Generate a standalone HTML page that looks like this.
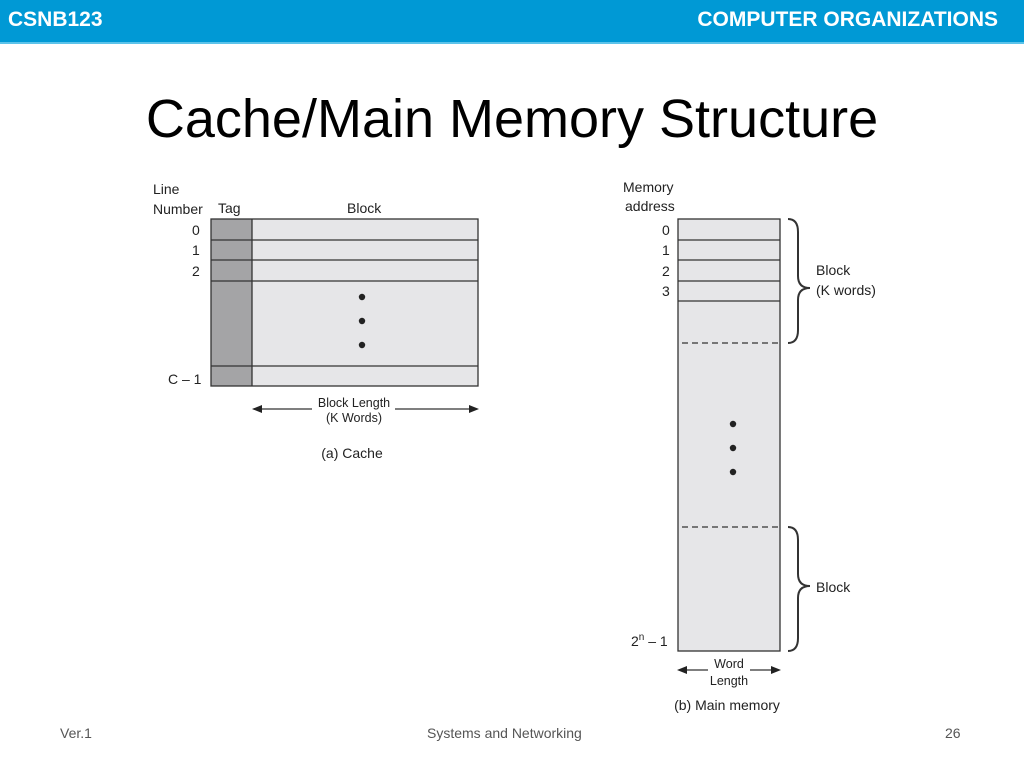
<!DOCTYPE html>
<html><head><meta charset="utf-8"><style>
body{margin:0;width:1024px;height:768px;background:#fff;overflow:hidden;font-family:"Liberation Sans",sans-serif;position:relative}
.hdr{position:absolute;left:0;top:0;width:1024px;height:42px;background:#0099d5;border-bottom:2px solid #5cc3ea}
.hdr span{position:absolute;top:8px;color:#fff;font-weight:bold;font-size:21px}
h1{position:absolute;left:0;width:1024px;top:84px;margin:0;text-align:center;font-weight:normal;font-size:54px;color:#000;line-height:70px}
.f{position:absolute;top:725px;font-size:14px;color:#555}
</style></head><body>
<div class="hdr"><span style="left:8px">CSNB123</span><span style="right:26px">COMPUTER ORGANIZATIONS</span></div>
<h1>Cache/Main Memory Structure</h1>
<svg width="1024" height="768" style="position:absolute;left:0;top:0" font-family="Liberation Sans, sans-serif" font-size="14" fill="#222">
<rect x="211" y="219" width="41" height="167" fill="#a4a4a6"/>
<rect x="252" y="219" width="226" height="167" fill="#e6e6e8"/>
<g stroke="#333" stroke-width="1.3" fill="none">
<rect x="211" y="219" width="267" height="167"/>
<line x1="252" y1="219" x2="252" y2="386"/>
<line x1="211" y1="240" x2="478" y2="240"/><line x1="211" y1="260" x2="478" y2="260"/>
<line x1="211" y1="281" x2="478" y2="281"/><line x1="211" y1="366" x2="478" y2="366"/>
<line x1="262" y1="409" x2="312" y2="409"/><line x1="395" y1="409" x2="470" y2="409"/>
</g>
<polygon points="252,409 262,405 262,413" fill="#222"/><polygon points="479,409 469,405 469,413" fill="#222"/>
<circle cx="362" cy="297" r="3.2"/><circle cx="362" cy="321" r="3.2"/><circle cx="362" cy="345" r="3.2"/>
<text x="153" y="194">Line</text><text x="153" y="214">Number</text><text x="218" y="213">Tag</text><text x="347" y="213">Block</text>
<text x="192" y="235">0</text><text x="192" y="255">1</text><text x="192" y="276">2</text><text x="168" y="384">C – 1</text>
<text x="354" y="407" text-anchor="middle" font-size="12.5">Block Length</text><text x="354" y="422" text-anchor="middle" font-size="12.5">(K Words)</text>
<text x="352" y="458" text-anchor="middle">(a) Cache</text>

<rect x="678" y="219" width="102" height="432" fill="#e6e6e8" stroke="#333" stroke-width="1.3"/>
<g stroke="#333" stroke-width="1.3" fill="none">
<line x1="678" y1="240" x2="780" y2="240"/><line x1="678" y1="260" x2="780" y2="260"/>
<line x1="678" y1="281" x2="780" y2="281"/><line x1="678" y1="301" x2="780" y2="301"/>
<line x1="682" y1="343" x2="780" y2="343" stroke-dasharray="6,4"/>
<line x1="682" y1="527" x2="780" y2="527" stroke-dasharray="6,4"/>
<path d="M788,219 Q798,219 798,232 L798,276 Q798,288 810,288 Q798,288 798,300 L798,330 Q798,343 788,343" stroke-width="2"/>
<path d="M788,527 Q798,527 798,540 L798,574 Q798,586 810,586 Q798,586 798,598 L798,638 Q798,651 788,651" stroke-width="2"/>
<line x1="686" y1="670" x2="708" y2="670"/><line x1="750" y1="670" x2="772" y2="670"/>
</g>
<polygon points="677,670 687,666 687,674" fill="#222"/><polygon points="781,670 771,666 771,674" fill="#222"/>
<circle cx="733" cy="424" r="3.2"/><circle cx="733" cy="448" r="3.2"/><circle cx="733" cy="472" r="3.2"/>
<text x="623" y="192">Memory</text><text x="625" y="211">address</text>
<text x="662" y="235">0</text><text x="662" y="255">1</text><text x="662" y="276">2</text><text x="662" y="296">3</text>
<text x="816" y="275">Block</text><text x="816" y="295">(K words)</text><text x="816" y="592">Block</text>
<text x="631" y="646">2<tspan font-size="10" dy="-6">n</tspan><tspan dy="6"> – 1</tspan></text>
<text x="729" y="668" text-anchor="middle" font-size="12.5">Word</text><text x="729" y="685" text-anchor="middle" font-size="12.5">Length</text>
<text x="727" y="710" text-anchor="middle">(b) Main memory</text>
</svg>
<div class="f" style="left:60px">Ver.1</div>
<div class="f" style="left:427px">Systems and Networking</div>
<div class="f" style="left:945px">26</div>
</body></html>
